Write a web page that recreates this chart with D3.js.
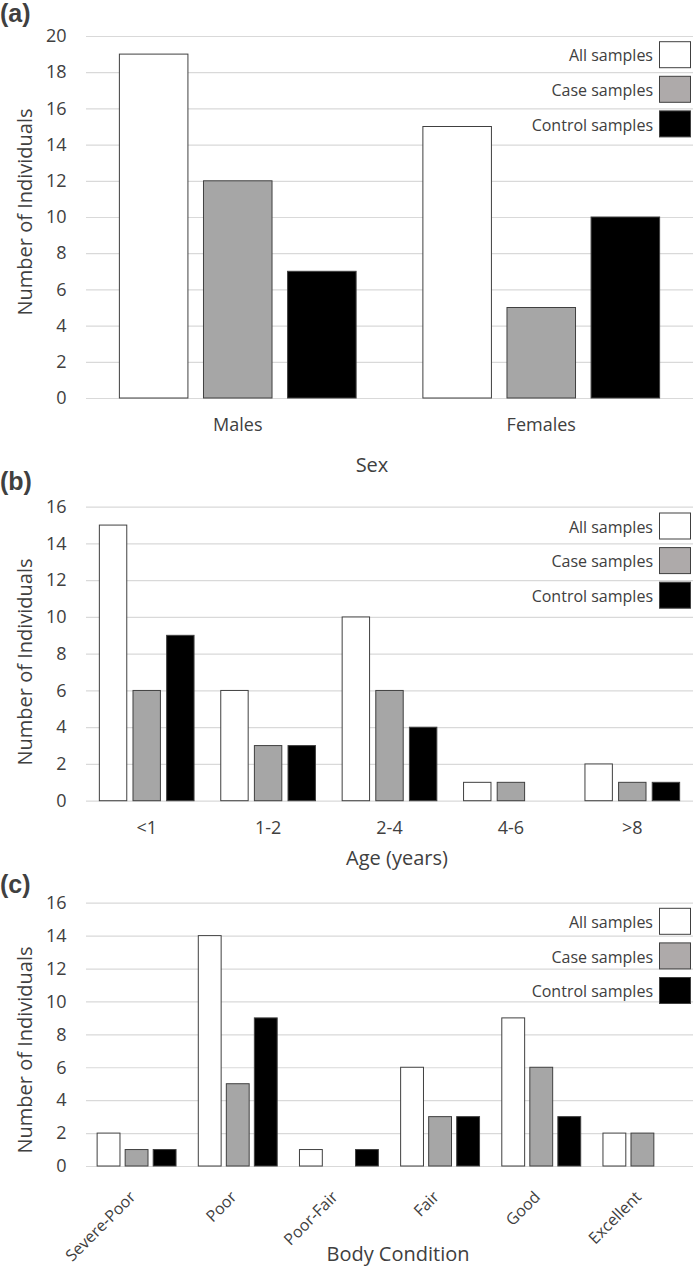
<!DOCTYPE html>
<html lang="en">
<head>
<meta charset="UTF-8">
<title>Number of Individuals</title>
<script src="https://d3js.org/d3.v7.min.js"></script>
<style>
  body { margin: 0; background: #fff; }
  text { font-family: "Open Sans", sans-serif; fill: #404040; }
</style>
</head>
<body>
<svg id="canvas"></svg>
<script>
// ---- data ----
let seriesNames = ['All samples', 'Case samples', 'Control samples']

let sexCats = ['Males', 'Females']
let sexAll = [19, 15]
let sexCase = [12, 5]
let sexControl = [7, 10]

let ageCats = ['<1', '1-2', '2-4', '4-6', '>8']
let ageAll = [15, 6, 10, 1, 2]
let ageCase = [6, 3, 6, 1, 1]
let ageControl = [9, 3, 4, 0, 1]

let bodyCats = ['Severe-Poor', 'Poor', 'Poor-Fair', 'Fair', 'Good', 'Excellent']
let bodyAll = [2, 14, 1, 6, 9, 2]
let bodyCase = [1, 5, 0, 3, 6, 2]
let bodyControl = [1, 9, 1, 3, 3, 0]

let ticksA = [0, 2, 4, 6, 8, 10, 12, 14, 16, 18, 20]
let ticksBC = [0, 2, 4, 6, 8, 10, 12, 14, 16]

let panelLabels = ['(a)', '(b)', '(c)']
let xTitles = ['Sex', 'Age (years)', 'Body Condition']
let yTitle = 'Number of Individuals'

// ---- look ----
let width = 700
let height = 1269
let left = 86
let right = 693
let barFill = ['#ffffff', '#a6a6a6', '#000000']
let boxFill = ['#ffffff', '#aeaaaa', '#000000']

let svg = d3.select('svg').attr('width', width).attr('height', height)

let panels = [
  { cats: sexCats, vals: [sexAll, sexCase, sexControl], ticks: ticksA, top: 36, bottom: 398,
    labelY: 21.5, legendTop: 41.7, catY: 425, titleX: 372, titleY: 465, yTitleY: 212, rotate: false },
  { cats: ageCats, vals: [ageAll, ageCase, ageControl], ticks: ticksBC, top: 506.7, bottom: 800.7,
    labelY: 490, legendTop: 513, catY: 828, titleX: 397, titleY: 858, yTitleY: 662, rotate: false },
  { cats: bodyCats, vals: [bodyAll, bodyCase, bodyControl], ticks: ticksBC, top: 902.7, bottom: 1166,
    labelY: 893, legendTop: 908.3, catY: 1194, titleX: 398, titleY: 1254, yTitleY: 1050, rotate: true }
]

let drawPanel = (p, k) => {
  let g = svg.append('g')

  let y = d3.scaleLinear()
            .domain([0, d3.max(p.ticks)])
            .range([p.bottom, p.top])

  let x = d3.scaleBand()
            .domain(p.cats)
            .range([left, right])
            .paddingInner(0.22)
            .paddingOuter(0.11)

  let xs = d3.scaleBand()
             .domain(seriesNames)
             .range([0, x.bandwidth()])
             .paddingInner(0.185)

  // gridlines + y tick labels
  let yAxis = d3.axisLeft(y)
                .tickValues(p.ticks)
                .tickSize(-(right - left))
                .tickPadding(19.5)
                .tickFormat(d3.format('d'))
  let ya = g.append('g')
            .attr('transform', 'translate(' + left + ',0)')
            .call(yAxis)
  ya.select('.domain').remove()
  ya.selectAll('line').attr('stroke', '#d9d9d9').attr('stroke-width', 1.2)
  ya.selectAll('text').style('font-size', '18px').attr('fill', '#404040')

  // bars
  seriesNames.forEach((s, si) => {
    g.selectAll('.bar' + si)
     .data(p.cats.map((c, i) => ({ c: c, v: p.vals[si][i] })).filter(d => d.v > 0))
     .enter()
     .append('rect')
     .attr('x', d => x(d.c) + xs(s))
     .attr('y', d => y(d.v))
     .attr('width', xs.bandwidth())
     .attr('height', d => y(0) - y(d.v))
     .attr('fill', barFill[si])
     .attr('stroke', '#404040')
     .attr('stroke-width', 1)
  })

  // category labels
  let xAxis = d3.axisBottom(x).tickSize(0).tickPadding(0)
  let xa = g.append('g')
            .attr('transform', 'translate(0,' + p.catY + ')')
            .call(xAxis)
  xa.select('.domain').remove()
  xa.selectAll('text').style('font-size', '18px').attr('fill', '#404040')
  if (p.rotate) {
    xa.selectAll('text')
      .style('font-size', '16px')
      .attr('y', 0)
      .attr('dy', '0.35em')
      .attr('text-anchor', 'end')
      .attr('transform', 'translate(-4,0) rotate(-45)')
  } else {
    xa.selectAll('text').attr('y', 0).attr('dy', '0.35em')
  }

  // axis titles
  g.append('text')
   .attr('x', p.titleX)
   .attr('y', p.titleY)
   .attr('dy', '0.35em')
   .attr('text-anchor', 'middle')
   .style('font-size', '20px')
   .text(xTitles[k])

  g.append('text')
   .attr('transform', 'translate(32,' + p.yTitleY + ') rotate(-90)')
   .attr('text-anchor', 'middle')
   .style('font-size', '20px')
   .text(yTitle)

  // panel letter
  g.append('text')
   .attr('x', 0)
   .attr('y', p.labelY)
   .style('font-family', '"Liberation Sans", Arial, sans-serif')
   .style('font-weight', 'bold')
   .style('font-size', '25px')
   .attr('fill', '#000')
   .text(panelLabels[k])

  // legend
  let leg = g.append('g')
  seriesNames.forEach((s, si) => {
    let ty = p.legendTop + si * 34.6
    leg.append('rect')
       .attr('x', 659.5)
       .attr('y', ty)
       .attr('width', 31)
       .attr('height', 26)
       .attr('fill', boxFill[si])
       .attr('stroke', '#404040')
       .attr('stroke-width', 1)
    leg.append('text')
       .attr('x', 653)
       .attr('y', ty + 14)
       .attr('dy', '0.35em')
       .attr('text-anchor', 'end')
       .style('font-size', '16px')
       .text(s)
  })
}

panels.forEach((p, k) => drawPanel(p, k))
</script>
</body>
</html>
